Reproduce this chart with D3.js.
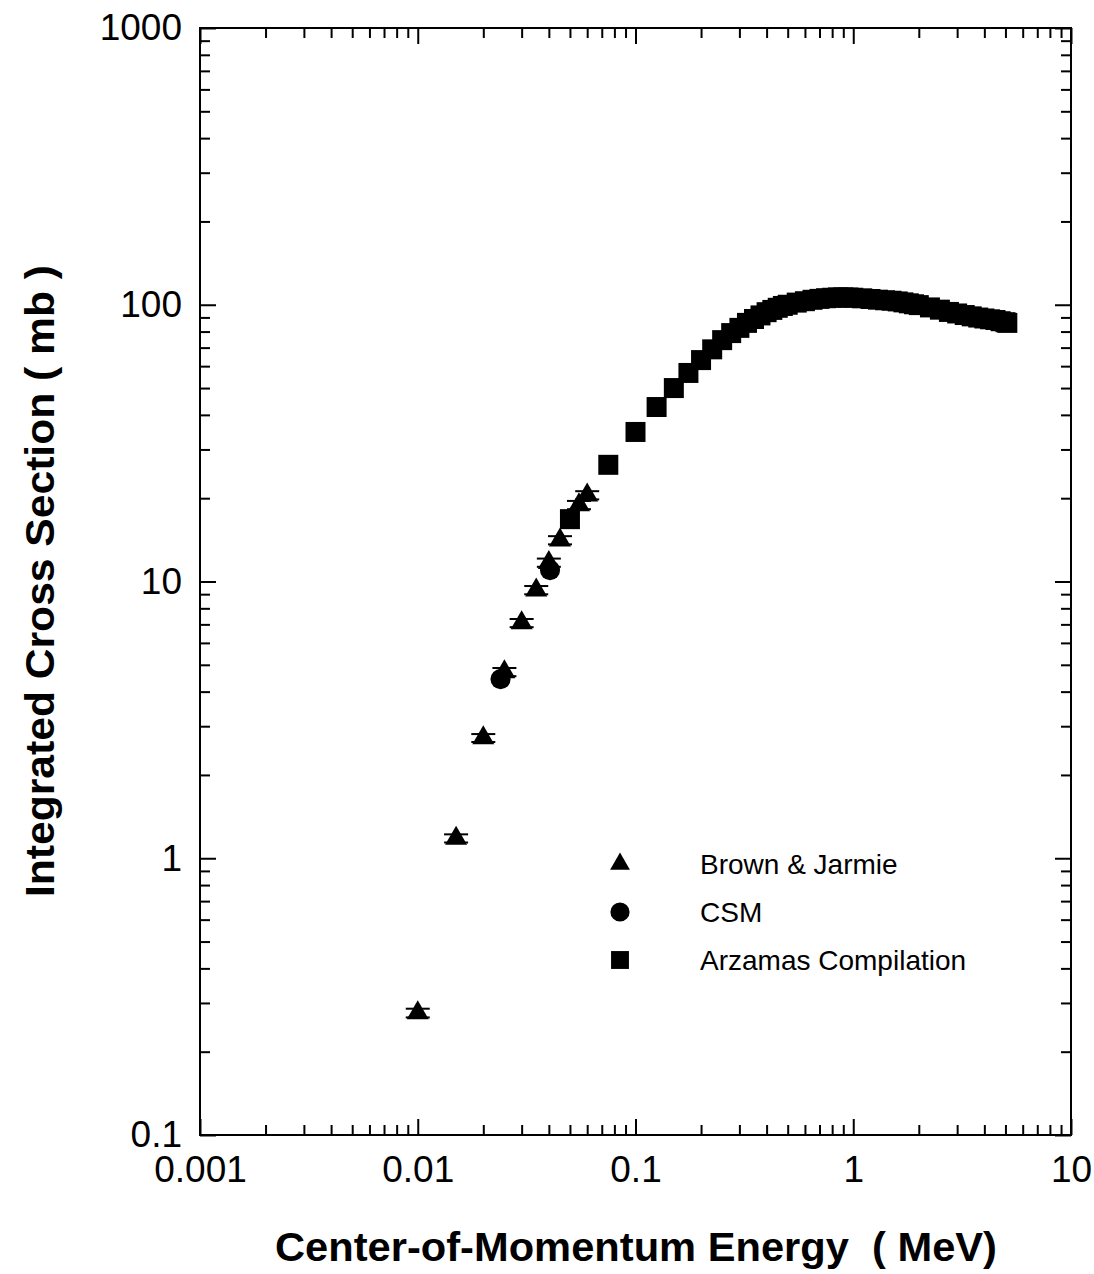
<!DOCTYPE html>
<html>
<head>
<meta charset="utf-8">
<script src="https://cdn.jsdelivr.net/npm/d3@7"></script>
<style>
  body { margin: 0; background: #fff; }
  text { font-family: "Liberation Sans", Arial, Helvetica, sans-serif; fill: #000; }
</style>
</head>
<body>
<svg id="chart"></svg>
<script>
// Brown & Jarmie (triangles): energy MeV, cross section mb, error mb
const bjEnergy = [0.01, 0.015, 0.02, 0.025, 0.03, 0.035, 0.04, 0.045, 0.055, 0.06];
const bjSigma  = [0.276, 1.18, 2.72, 4.71, 7.08, 9.31, 11.7, 14.1, 18.9, 20.5];
const bjError  = [0.01, 0.04, 0.09, 0.16, 0.24, 0.32, 0.4, 0.48, 0.65, 0.7];

// CSM (circles)
const csmEnergy = [0.024, 0.0405];
const csmSigma  = [4.44, 11.0];

// Arzamas Compilation (squares)
const arzEnergy = [0.05, 0.075, 0.1, 0.125, 0.15, 0.175, 0.2, 0.225, 0.25, 0.275,
  0.3, 0.325, 0.35, 0.375, 0.4, 0.425, 0.45, 0.475, 0.5, 0.55, 0.6, 0.65, 0.7,
  0.75, 0.8, 0.85, 0.9, 0.95, 1.0, 1.1, 1.2, 1.3, 1.4, 1.5, 1.6, 1.7, 1.8, 1.9,
  2.0, 2.25, 2.5, 2.75, 3.0, 3.25, 3.5, 3.75, 4.0, 4.25, 4.5, 4.75, 5.0, 5.1];
const arzSigma = [16.8, 26.4, 34.7, 42.7, 50.0, 56.7, 63.1, 69.0, 74.5, 79.0,
  82.5, 86.0, 88.8, 91.5, 94.0, 95.8, 97.5, 99.0, 100.0, 101.8, 103.0, 104.2, 105.0,
  105.6, 106.0, 106.3, 106.3, 106.2, 106.0, 105.5, 104.9, 104.3, 103.8, 103.4, 102.8, 102.0, 101.2, 100.4,
  99.7, 97.8, 96.0, 94.2, 93.0, 91.8, 90.8, 89.9, 89.2, 88.6, 88.1, 87.2, 86.5, 86.0];

const xTicks = [0.001, 0.01, 0.1, 1, 10];
const xTickLabels = ["0.001", "0.01", "0.1", "1", "10"];
const yTicks = [0.1, 1, 10, 100, 1000];
const yTickLabels = ["0.1", "1", "10", "100", "1000"];

const legendLabels = ["Brown & Jarmie", "CSM", "Arzamas Compilation"];

const W = 1094, H = 1274;
const margin = { top: 28, right: 23, bottom: 139, left: 200 };
const width = W - margin.left - margin.right;
const height = H - margin.top - margin.bottom;

const svg = d3.select("#chart").attr("width", W).attr("height", H);
const g = svg.append("g").attr("transform", `translate(${margin.left},${margin.top})`);

const x = d3.scaleLog().domain([0.001, 10]).range([0, width]);
const y = d3.scaleLog().domain([0.1, 1000]).range([height, 0]);

const xMinor = x.ticks().filter(v => !xTicks.some(t => Math.abs(t - v) / t < 1e-9));
const yMinor = y.ticks().filter(v => !yTicks.some(t => Math.abs(t - v) / t < 1e-9));

const majorLen = 16, minorLen = 10;

function styleAxis(sel) {
  sel.select(".domain").remove();
  sel.selectAll("line").attr("stroke", "#000").attr("stroke-width", 2);
  sel.selectAll("text").style("font-size", "37px");
}

// bottom
g.append("g").attr("transform", `translate(0,${height})`)
  .call(d3.axisBottom(x).tickValues(xMinor).tickSize(-minorLen).tickFormat(""))
  .call(styleAxis);
g.append("g").attr("transform", `translate(0,${height})`)
  .call(d3.axisBottom(x).tickValues(xTicks).tickSize(-majorLen).tickSizeOuter(0)
    .tickPadding(21).tickFormat((d, i) => xTickLabels[i]))
  .call(styleAxis);
// top
g.append("g")
  .call(d3.axisTop(x).tickValues(xMinor).tickSize(-minorLen).tickFormat(""))
  .call(styleAxis);
g.append("g")
  .call(d3.axisTop(x).tickValues(xTicks).tickSize(-majorLen).tickFormat(""))
  .call(styleAxis);
// left
g.append("g")
  .call(d3.axisLeft(y).tickValues(yMinor).tickSize(-minorLen).tickFormat(""))
  .call(styleAxis);
g.append("g")
  .call(d3.axisLeft(y).tickValues(yTicks).tickSize(-majorLen).tickSizeOuter(0)
    .tickPadding(18).tickFormat((d, i) => yTickLabels[i]))
  .call(styleAxis);
// right
g.append("g").attr("transform", `translate(${width},0)`)
  .call(d3.axisRight(y).tickValues(yMinor).tickSize(-minorLen).tickFormat(""))
  .call(styleAxis);
g.append("g").attr("transform", `translate(${width},0)`)
  .call(d3.axisRight(y).tickValues(yTicks).tickSize(-majorLen).tickFormat(""))
  .call(styleAxis);

// frame
g.append("rect")
  .attr("width", width).attr("height", height)
  .attr("fill", "none").attr("stroke", "#000").attr("stroke-width", 2);

const tri = d3.symbol().type(d3.symbolTriangle).size(210);
const circ = d3.symbol().type(d3.symbolCircle).size(320);
const sq = d3.symbol().type(d3.symbolSquare).size(400);

const arz = arzEnergy.map((e, i) => ({ e, s: arzSigma[i] }));
const csm = csmEnergy.map((e, i) => ({ e, s: csmSigma[i] }));
const bj = bjEnergy.map((e, i) => ({ e, s: bjSigma[i], err: bjError[i] }));

g.selectAll(".arz").data(arz).enter().append("path")
  .attr("class", "arz")
  .attr("d", sq)
  .attr("transform", d => `translate(${x(d.e)},${y(d.s)})`)
  .attr("fill", "#000");

g.selectAll(".csm").data(csm).enter().append("path")
  .attr("class", "csm")
  .attr("d", circ)
  .attr("transform", d => `translate(${x(d.e)},${y(d.s)})`)
  .attr("fill", "#000");

const bjG = g.selectAll(".bj").data(bj).enter().append("g")
  .attr("class", "bj")
  .attr("transform", d => `translate(${x(d.e)},0)`);
bjG.append("line")
  .attr("y1", d => y(d.s - d.err)).attr("y2", d => y(d.s + d.err))
  .attr("stroke", "#000").attr("stroke-width", 2);
bjG.append("line")
  .attr("x1", -12).attr("x2", 12)
  .attr("y1", d => y(d.s + d.err)).attr("y2", d => y(d.s + d.err))
  .attr("stroke", "#000").attr("stroke-width", 2);
bjG.append("line")
  .attr("x1", -12).attr("x2", 12)
  .attr("y1", d => y(d.s - d.err)).attr("y2", d => y(d.s - d.err))
  .attr("stroke", "#000").attr("stroke-width", 2);
bjG.append("path")
  .attr("d", tri)
  .attr("transform", d => `translate(0,${y(d.s)})`)
  .attr("fill", "#000");

// legend
const legendSymbols = [d3.symbol().type(d3.symbolTriangle).size(170),
  d3.symbol().type(d3.symbolCircle).size(290),
  d3.symbol().type(d3.symbolSquare).size(320)];
const legend = g.append("g").attr("transform", `translate(${620 - margin.left},${864 - margin.top})`);
legendLabels.forEach((label, i) => {
  const row = legend.append("g").attr("transform", `translate(0,${i * 48})`);
  row.append("path").attr("d", legendSymbols[i]).attr("fill", "#000");
  row.append("text")
    .attr("x", 80).attr("y", 0).attr("dy", "0.35em")
    .style("font-size", "28px")
    .text(label);
});

// axis titles
svg.append("text")
  .attr("x", 636).attr("y", 1261)
  .attr("text-anchor", "middle")
  .attr("textLength", 722).attr("lengthAdjust", "spacingAndGlyphs")
  .style("font-size", "41px").style("font-weight", "bold")
  .style("white-space", "pre")
  .text("Center-of-Momentum Energy  ( MeV)");

svg.append("text")
  .attr("transform", "translate(54,581) rotate(-90)")
  .attr("text-anchor", "middle")
  .attr("textLength", 632).attr("lengthAdjust", "spacingAndGlyphs")
  .style("font-size", "41px").style("font-weight", "bold")
  .text("Integrated Cross Section ( mb )");
</script>
</body>
</html>
